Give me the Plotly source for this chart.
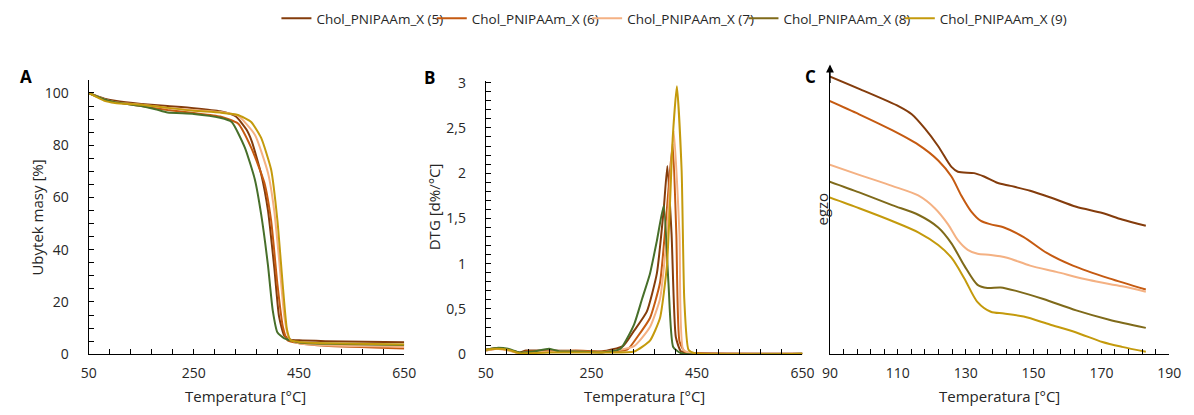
import plotly.graph_objects as go

W, H = 1194, 415

names = ["Chol_PNIPAAm_X (5)", "Chol_PNIPAAm_X (6)", "Chol_PNIPAAm_X (7)",
         "Chol_PNIPAAm_X (8)", "Chol_PNIPAAm_X (9)"]
colors_c = ["#843C0C", "#C55A11", "#F4B183", "#7F6A1A", "#C49A0C"]
colors_ab = ["#843C0C", "#C55A11", "#F4B183", "#476F2A", "#C49A0C"]

# ---- Panel A: TGA (mass loss %) ----
tga_T5 = [50, 80, 100, 150, 200, 250, 300, 330, 350, 360, 378, 391, 403, 412, 422, 434, 450, 500, 650]
tga_m5 = [100, 97.8, 97, 95.8, 95, 94.2, 93, 91, 86, 81.6, 69, 55, 33, 14.4, 7.1, 5.6, 5.3, 5.0, 4.6]
tga_T6 = [50, 80, 100, 150, 200, 250, 300, 334, 359, 384, 397, 409, 419, 428, 450, 500, 650]
tga_m6 = [100, 97.5, 96.5, 95, 93.5, 92.3, 91, 88.3, 79.1, 65.7, 51, 26.6, 10.7, 5.3, 4.2, 3.2, 2.2]
tga_T7 = [50, 80, 100, 150, 200, 250, 300, 334, 366, 391, 403, 412, 422, 431, 450, 500, 650]
tga_m7 = [100, 97.5, 96.5, 95.5, 94.3, 93.5, 92.7, 91.3, 84, 69.4, 54.7, 36.4, 14.4, 5.9, 4.2, 3.4, 2.8]
tga_T8 = [50, 80, 100, 150, 177, 200, 250, 300, 322, 347, 366, 378, 391, 400, 409, 422, 434, 450, 500, 650]
tga_m8 = [100, 97.5, 96.5, 95, 93.8, 92.5, 92, 90.5, 88.9, 79.1, 66.9, 53.5, 33.9, 16.8, 8.3, 6.1, 5.3, 4.5, 4.0, 3.5]
tga_T9 = [50, 80, 100, 150, 200, 250, 300, 334, 359, 378, 397, 409, 419, 427, 434, 450, 500, 650]
tga_m9 = [100, 97, 96.2, 95.5, 94.3, 93.2, 92.5, 91.6, 88.9, 82.8, 70.6, 51, 26.6, 9.5, 5.3, 4.7, 4.2, 3.7]

# ---- Panel B: DTG ----
dtg_T5 = [50, 70, 92, 114, 126, 170, 220, 270, 310, 331, 355, 374, 387, 394, 402, 410, 420, 450, 650]
dtg_d5 = [0.05, 0.07, 0.05, 0.02, 0.04, 0.04, 0.035, 0.03, 0.09, 0.26, 0.47, 0.89, 1.6, 2.08, 1.32, 0.19, 0.03, 0.01, 0.005]
dtg_T6 = [50, 70, 92, 114, 126, 170, 220, 270, 318, 337, 361, 380, 393, 404, 411, 417, 428, 450, 650]
dtg_d6 = [0.04, 0.06, 0.05, 0.01, 0.03, 0.03, 0.04, 0.03, 0.05, 0.19, 0.40, 0.79, 1.6, 2.33, 1.32, 0.14, 0.02, 0.01, 0.005]
dtg_T7 = [50, 70, 92, 114, 126, 170, 220, 270, 331, 361, 380, 393, 406, 417, 424, 440, 650]
dtg_d7 = [0.04, 0.06, 0.04, 0.01, 0.02, 0.03, 0.03, 0.02, 0.09, 0.30, 0.61, 1.32, 2.47, 1.32, 0.05, 0.01, 0.005]
dtg_T8 = [50, 70, 92, 114, 140, 170, 190, 220, 270, 305, 331, 346, 361, 374, 387, 396, 405, 420, 650]
dtg_d8 = [0.05, 0.07, 0.06, 0.02, 0.03, 0.06, 0.03, 0.03, 0.02, 0.06, 0.33, 0.61, 0.89, 1.25, 1.64, 0.79, 0.08, 0.01, 0.005]
dtg_T9 = [50, 70, 92, 114, 126, 170, 220, 270, 331, 361, 380, 393, 399, 404, 412, 421, 426, 434, 446, 650]
dtg_d9 = [0.05, 0.06, 0.05, 0.01, 0.01, 0.02, 0.02, 0.02, 0.03, 0.15, 0.40, 0.97, 1.67, 2.38, 2.96, 2.03, 0.61, 0.05, 0.01, 0.005]

# ---- Panel C: DSC (arbitrary units) ----
dsc_T5 = [89.7, 98.6, 110.3, 114.1, 118.0, 121.9, 125.8, 127.7, 132.5, 135.4, 139.3, 143.2, 149.0, 154.8, 162.6, 170.3, 176.1, 183.1]
dsc_v5 = [98.3, 93.8, 87.6, 84.8, 79.7, 73.5, 66.2, 64.5, 64.0, 62.8, 60.6, 59.5, 57.8, 55.5, 52.1, 49.9, 47.6, 45.4]
dsc_T6 = [89.7, 98.6, 108.3, 116.0, 121.9, 125.8, 128.7, 131.6, 134.5, 137.4, 141.3, 147.1, 153.9, 161.6, 172.3, 183.1]
dsc_v6 = [89.6, 84.8, 79.2, 74.1, 68.5, 62.8, 56.1, 50.5, 47.1, 45.9, 44.8, 41.4, 35.8, 31.3, 26.8, 22.9]
dsc_T7 = [89.7, 98.6, 108.3, 116.0, 120.9, 124.8, 127.7, 130.6, 133.5, 137.4, 142.2, 149.0, 156.7, 166.4, 176.1, 183.1]
dsc_v7 = [67.1, 63.4, 59.5, 56.1, 51.6, 45.9, 40.3, 36.9, 35.5, 35.1, 34.1, 31.3, 29.1, 26.2, 24.0, 22.1]
dsc_T8 = [89.7, 98.6, 108.3, 116.0, 121.9, 125.8, 129.6, 133.5, 136.4, 140.3, 145.1, 152.9, 162.6, 172.3, 183.1]
dsc_v8 = [61.1, 57.2, 52.7, 49.3, 44.8, 39.2, 31.3, 24.5, 23.4, 23.6, 22.3, 19.5, 15.5, 12.2, 9.3]
dsc_T9 = [89.7, 98.6, 108.3, 116.0, 121.9, 125.8, 129.6, 133.5, 137.4, 141.3, 147.1, 154.8, 162.6, 170.3, 176.1, 183.1]
dsc_v9 = [55.5, 51.6, 47.1, 43.1, 38.6, 34.1, 26.8, 18.4, 15.0, 14.4, 13.3, 10.5, 7.7, 4.3, 2.6, 0.9]

# tick labels
a_xticks = [50, 250, 450, 650]
a_yticks = [0, 20, 40, 60, 80, 100]
b_yticks = [0, 0.5, 1, 1.5, 2, 2.5, 3]
b_yticktext = ["0", "0,5", "1", "1,5", "2", "2,5", "3"]
c_xticks = [90, 110, 130, 150, 170, 190]

tga = [(tga_T5, tga_m5), (tga_T6, tga_m6), (tga_T7, tga_m7), (tga_T8, tga_m8), (tga_T9, tga_m9)]
dtg = [(dtg_T5, dtg_d5), (dtg_T6, dtg_d6), (dtg_T7, dtg_d7), (dtg_T8, dtg_d8), (dtg_T9, dtg_d9)]
dsc = [(dsc_T5, dsc_v5), (dsc_T6, dsc_v6), (dsc_T7, dsc_v7), (dsc_T8, dsc_v8), (dsc_T9, dsc_v9)]

def px(x):
    return x / W

def py(y):
    return (H - y) / H

FONT = "Open Sans"
TXT = "#262626"
TICK = 14
TITLE = 15
LEG = 13.5

legend_ids = ["legend", "legend2", "legend3", "legend4", "legend5"]
legend_x = [273, 431, 589, 748, 907]

fig = go.Figure()
for i in range(5):
    fig.add_trace(go.Scatter(x=tga[i][0], y=tga[i][1], mode="lines", name=names[i],
                             line=dict(color=colors_ab[i], width=2, shape="spline", smoothing=0.5),
                             xaxis="x", yaxis="y", showlegend=False))
for i in range(5):
    fig.add_trace(go.Scatter(x=dtg[i][0], y=dtg[i][1], mode="lines", name=names[i],
                             line=dict(color=colors_ab[i], width=2, shape="spline", smoothing=0.5),
                             xaxis="x2", yaxis="y2", showlegend=False))
for i in range(5):
    fig.add_trace(go.Scatter(x=dsc[i][0], y=dsc[i][1], mode="lines", name=names[i],
                             line=dict(color=colors_c[i], width=2, shape="spline", smoothing=0.8),
                             xaxis="x3", yaxis="y3", showlegend=True, legend=legend_ids[i]))

mtick = dict(ticks="inside", ticklen=5, tickcolor="black", tickwidth=1.3)
axcommon = dict(showline=True, linecolor="black", linewidth=1.3, showgrid=False, zeroline=False,
                tickfont=dict(family=FONT, size=TICK, color=TXT), ticks="inside", ticklen=5,
                tickcolor="black", tickwidth=1.3)

ybot, ytopA, ytopB, ytopC = 361, 75, 76, 66
XSO = 6

layout = dict(
    width=W, height=H, margin=dict(l=0, r=0, t=0, b=0),
    paper_bgcolor="white", plot_bgcolor="white",
    font=dict(family=FONT, size=14, color=TXT),
    separators=", ",
    xaxis=dict(**axcommon, domain=[px(82), px(403)], range=[50, 650], tickvals=a_xticks,
               ticklabelstandoff=XSO, minor=dict(dtick=40, tick0=50, **mtick), anchor="y"),
    yaxis=dict(**axcommon, domain=[py(ybot), py(ytopA)], range=[0, 105], tickvals=a_yticks,
               ticklabelstandoff=16, minor=dict(dtick=5, tick0=0, **mtick), anchor="x"),
    xaxis2=dict(**axcommon, domain=[px(486), px(808)], range=[50, 650], tickvals=a_xticks,
                ticklabelstandoff=XSO, minor=dict(dtick=40, tick0=50, **mtick), anchor="y2"),
    yaxis2=dict(**axcommon, domain=[py(ybot), py(ytopB)], range=[0, 3.02], tickvals=b_yticks,
                ticktext=b_yticktext, ticklabelstandoff=16,
                minor=dict(dtick=0.1, tick0=0, **mtick), anchor="x2"),
    xaxis3=dict(**axcommon, domain=[px(836), px(1181)], range=[90, 190], tickvals=c_xticks,
                ticklabelstandoff=XSO, minor=dict(dtick=4, tick0=90, **mtick), anchor="y3"),
    yaxis3=dict(showline=True, linecolor="black", linewidth=1.3, showgrid=False, zeroline=False,
                showticklabels=False, ticks="", domain=[py(ybot), py(ytopC)], range=[0, 100],
                anchor="x3"),
)
for lid, lx in zip(legend_ids, legend_x):
    layout[lid] = dict(orientation="h", x=px(lx), xanchor="left", y=py(11), yanchor="middle",
                       font=dict(family=FONT, size=LEG, color=TXT), bgcolor="rgba(0,0,0,0)")
fig.update_layout(**layout)

annots = [
    dict(text="<b>A</b>", x=px(18), y=py(71)),
    dict(text="<b>B</b>", x=px(429), y=py(72)),
    dict(text="<b>C</b>", x=px(816), y=py(71)),
]
for a in annots:
    fig.add_annotation(xref="paper", yref="paper", showarrow=False, xanchor="center", yanchor="middle",
                       font=dict(family=FONT, size=17, color="black"), text=a["text"], x=a["x"], y=a["y"])

# x-axis titles anchored at the bottom edge of the figure
for xc in [242, 647, 1008]:
    fig.add_annotation(xref="paper", yref="paper", showarrow=False, xanchor="center", yanchor="bottom",
                       text="Temperatura [°C]", x=px(xc), y=0, yshift=-2,
                       font=dict(family=FONT, size=TITLE, color=TXT))

ytitles = [
    ("Ubytek masy [%]", px(30), py(218)),
    ("DTG [d%/°C]", px(433), py(207)),
    ("egzo", px(828), py(210)),
]
for t, x, y in ytitles:
    fig.add_annotation(xref="paper", yref="paper", showarrow=False, xanchor="center", yanchor="middle",
                       text=t, x=x, y=y, textangle=-90, font=dict(family=FONT, size=TITLE, color=TXT))

# arrow on top of the C y-axis
fig.add_annotation(xref="paper", yref="paper", x=px(836), y=py(59), ax=0, ay=20, text="",
                   showarrow=True, arrowhead=2, arrowsize=1.2, arrowwidth=1.3, arrowcolor="black")

fig.write_html("out.html")
